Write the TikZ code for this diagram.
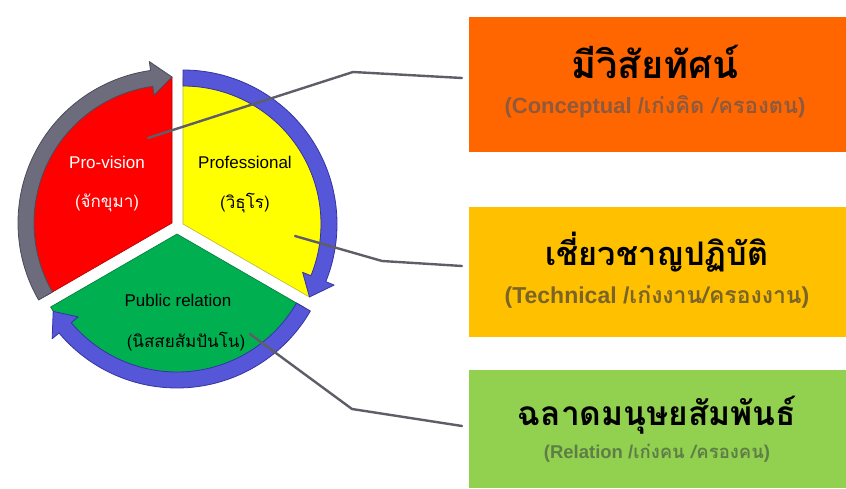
\documentclass[tikz,border=0pt]{standalone}
\usepackage{fontspec}
\setmainfont{Liberation Sans}
\newfontfamily\thai[Script=Thai]{Loma}
\usetikzlibrary{calc}
\definecolor{segred}{HTML}{FF0000}
\definecolor{segyellow}{HTML}{FFFF00}
\definecolor{seggreen}{HTML}{00B050}
\definecolor{boxorange}{HTML}{FF6600}
\definecolor{boxgold}{HTML}{FFC000}
\definecolor{boxgreen}{HTML}{92D050}
\definecolor{arrowblue}{HTML}{5656D8}
\definecolor{arrowblueedge}{HTML}{3434A0}
\definecolor{arrowgrey}{HTML}{6C6C7C}
\definecolor{arrowgreyedge}{HTML}{4A4A58}
\definecolor{linegrey}{HTML}{5E5E68}
\definecolor{suborange}{HTML}{8E5A3E}
\definecolor{subgold}{HTML}{7A6428}
\definecolor{subgreen}{HTML}{5E7E46}
\newcommand\RingO{154}
\newcommand\RingI{138}
\newcommand\RingM{146}
\newcommand\RingExt{9}
\newcommand\RingHd{8}
% center, start angle, end angle, fill, edge
\newcommand\ringarrow[5]{%
  \begin{scope}[shift={#1}]
    \filldraw[fill=#4, draw=#5, line width=0.8pt, line join=round]
      (#2:\RingO) arc[start angle=#2, end angle={#3+\RingHd}, radius=\RingO]
      -- ({#3+\RingHd}:{\RingO+\RingExt})
      -- (#3:\RingM)
      -- ({#3+\RingHd}:{\RingI-\RingExt})
      -- ({#3+\RingHd}:\RingI)
      arc[start angle={#3+\RingHd}, end angle=#2, radius=\RingI] -- cycle;
  \end{scope}}
\tikzset{
  seglabel/.style={font=\fontsize{17}{19}\selectfont, inner sep=0pt, anchor=center},
  segthai/.style={font=\thai\fontsize{17}{19}\selectfont, inner sep=0pt, anchor=center},
  infobox/.style={anchor=south west, inner sep=0pt, minimum width=377pt},
  boxtitle/.style={font=\thai\bfseries\fontsize{35}{38}\selectfont, inner sep=0pt, anchor=center},
  boxsub/.style={font=\bfseries\fontsize{21}{23}\selectfont, inner sep=0pt, anchor=center},
  connector/.style={draw=linegrey, line width=2.4pt, line cap=round, line join=round}
}
\begin{document}
\begin{tikzpicture}[x=1pt, y=1pt]
\useasboundingbox (0,0) rectangle (846,488);
\fill[white] (0,0) rectangle (846,488);

% pie sectors
\fill[segred, draw=red!70!black, line width=0.6pt] (172,265) -- ++(90:146) arc[start angle=90, end angle=210, radius=146] -- cycle;
\fill[segyellow, draw=yellow!70!black, line width=0.6pt] (183,264) -- ++(90:146) arc[start angle=90, end angle=-30, radius=146] -- cycle;
\fill[seggreen, draw=seggreen!70!black, line width=0.6pt] (177,254) -- ++(-30:146) arc[start angle=-30, end angle=-150, radius=146] -- cycle;

% circular arrows
\ringarrow{(172,265)}{210}{90}{arrowgrey}{arrowgreyedge}
\ringarrow{(183,264)}{90}{-30}{arrowblue}{arrowblueedge}
\ringarrow{(177,254)}{-30}{-148}{arrowblue}{arrowblueedge}

% segment labels
\node[seglabel, text=white] (pv) at (107,326) {Pro-vision};
\node[segthai, text=white] (pvt) at (107,285) {(จักขุมา)};
\node[seglabel] (pf) at (245,326) {Professional};
\node[segthai] (pft) at (245,285) {(วิธุโร)};
\node[seglabel] (pr) at (178,188) {Public relation};
\node[segthai] (prt) at (186,146) {(นิสสยสัมปันโน)};

% right boxes
\node[infobox, fill=boxorange, minimum height=135pt] (b1) at (469,336) {};
\node[infobox, fill=boxgold, minimum height=130pt] (b2) at (469,151) {};
\node[infobox, fill=boxgreen, minimum height=118pt] (b3) at (469,0) {};

\node[boxtitle, font=\thai\bfseries\fontsize{38}{40}\selectfont] (t1) at (655,426) {มีวิสัยทัศน์};
\node[boxsub, text=suborange, font=\bfseries\fontsize{22}{24}\selectfont] (s1) at (655,381) {(Conceptual /{\thai เก่งคิด /ครองตน})};
\node[boxtitle, font=\thai\bfseries\fontsize{32.5}{36}\selectfont] (t2) at (657,236) {เชี่ยวชาญปฏิบัติ};
\node[boxsub, text=subgold, font=\bfseries\fontsize{23}{25}\selectfont] (s2) at (657,191) {(Technical /{\thai เก่งงาน/ครองงาน})};
\node[boxtitle, font=\thai\bfseries\fontsize{33.5}{36}\selectfont] (t3) at (657,73) {ฉลาดมนุษยสัมพันธ์};
\node[boxsub, text=subgreen, font=\bfseries\fontsize{18.5}{20}\selectfont] (s3) at (657,35) {(Relation /{\thai เก่งคน /ครองคน})};

% connectors
\coordinate (c1a) at (148,350);
\coordinate (c1b) at (353,416);
\coordinate (c1c) at (462,410);
\coordinate (c2a) at (295,252);
\coordinate (c2b) at (382,227);
\coordinate (c2c) at (462,222);
\coordinate (c3a) at (250,154);
\coordinate (c3b) at (352,79);
\coordinate (c3c) at (462,62);
\draw[connector] (c1a) -- (c1b) -- (c1c);
\draw[connector] (c2a) -- (c2b) -- (c2c);
\draw[connector] (c3a) -- (c3b) -- (c3c);
\end{tikzpicture}
\end{document}
